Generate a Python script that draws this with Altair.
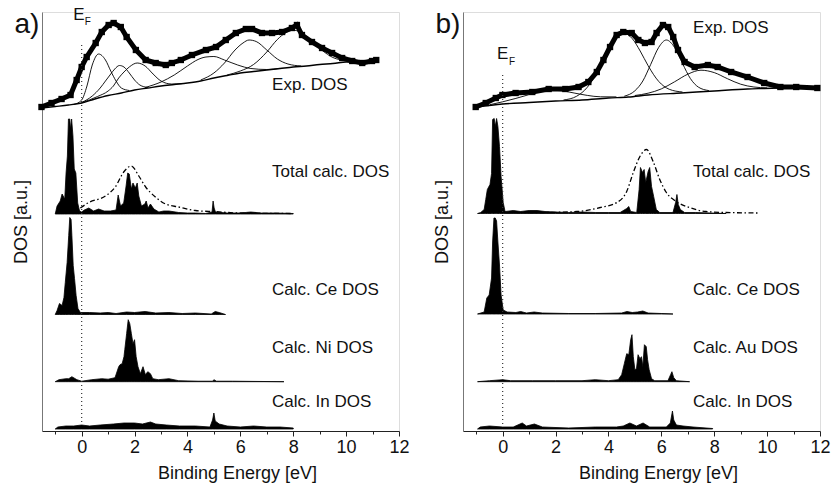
import altair as alt
import pandas as pd

# ---------------- axes ----------------
X_DOMAIN = [-1.5, 12]
Y_DOMAIN = [0, 419]
X_TICKS = list(range(-1, 13))

# ---------------- panel a data (energy eV, intensity a.u.) ----------------
EXP_A = [(-1.52, 324), (-1.14, 328), (-0.76, 332), (-0.42, 336), (-0.19, 351), (0.0, 364),
         (0.19, 374), (0.53, 388), (0.76, 399), (1.02, 406), (1.21, 408), (1.48, 404),
         (1.70, 394), (2.05, 381), (2.42, 371), (2.80, 368), (3.18, 366), (3.41, 368),
         (3.75, 371), (4.17, 376), (4.70, 381), (5.08, 384), (5.45, 391), (5.83, 398),
         (6.21, 402), (6.44, 402), (6.82, 398), (7.20, 398), (7.58, 399), (7.95, 403),
         (8.14, 406), (8.33, 396), (8.71, 389), (9.09, 383), (9.47, 378), (9.85, 373),
         (10.23, 370), (10.61, 368), (10.98, 370), (11.14, 371)]
BG_A = [(-1.52, 323), (-1.0, 324.5), (-0.5, 326), (0.0, 328), (0.5, 332), (1.0, 335.5),
        (1.5, 338), (2.0, 341), (2.5, 343), (3.0, 345), (3.5, 346.5), (4.0, 348), (4.5, 350),
        (5.0, 353), (5.5, 355.5), (6.0, 358), (6.5, 359.5), (7.0, 361), (7.5, 362.5),
        (8.0, 364), (8.5, 365), (9.0, 366.5), (9.5, 367.5), (10.0, 369), (10.5, 369.5),
        (11.1, 370.5)]
FIT_A1 = [(-0.3, 326.5), (0.0, 331), (0.2, 345), (0.4, 366), (0.64, 377), (0.9, 371),
          (1.1, 360), (1.3, 350), (1.5, 343), (1.8, 340.5)]
FIT_A2 = [(0.0, 328.5), (0.4, 335), (0.7, 343), (0.9, 350), (1.1, 357), (1.25, 362),
          (1.43, 365.5), (1.6, 364), (1.8, 358), (2.0, 351), (2.2, 346), (2.5, 343.5)]
FIT_A3 = [(0.0, 328.3), (0.6, 334.5), (1.0, 340), (1.2, 345), (1.4, 353), (1.6, 359),
          (1.8, 364), (2.1, 368), (2.4, 365), (2.7, 357), (3.0, 350), (3.4, 347), (3.8, 347.4)]
FIT_A4 = [(2.4, 343.5), (3.0, 349), (3.5, 356), (4.0, 365), (4.4, 371.5), (4.7, 374),
          (5.0, 374.5), (5.4, 371), (5.9, 366), (6.4, 362.5), (7.0, 361.5), (7.5, 362.6)]
FIT_A5 = [(4.5, 351), (5.0, 358), (5.4, 368), (5.8, 381), (6.1, 388), (6.33, 391),
          (6.6, 389.5), (7.0, 381), (7.4, 372), (7.8, 367), (8.3, 365)]
FIT_A6 = [(5.5, 356), (6.0, 360), (6.5, 366.5), (7.0, 379), (7.4, 391.5), (7.7, 398),
          (7.97, 401), (8.3, 398.5), (8.7, 390), (9.1, 380.5), (9.5, 373.5), (10.0, 370.5),
          (10.5, 369.8)]

TOTAL_A = [(-1.0, 0), (-0.93, 8), (-0.81, 13), (-0.74, 20), (-0.64, 15), (-0.59, 41),
           (-0.54, 58), (-0.50, 95), (-0.45, 95), (-0.42, 85), (-0.38, 95), (-0.33, 78),
           (-0.28, 45), (-0.22, 41), (-0.15, 11), (-0.08, 3), (0.0, 2), (0.1, 4), (0.27, 6),
           (0.45, 3), (0.64, 5), (0.85, 3), (1.09, 3), (1.3, 4), (1.38, 19), (1.47, 8),
           (1.59, 11), (1.68, 28), (1.74, 41), (1.80, 40), (1.88, 25), (1.94, 31), (2.03, 26),
           (2.10, 31), (2.16, 18), (2.26, 8), (2.39, 10), (2.44, 13), (2.51, 6), (2.60, 10),
           (2.73, 5), (2.92, 2), (3.1, 3), (3.30, 3), (3.67, 1.5), (4.0, 1), (4.3, 1),
           (4.68, 0.5), (4.93, 2), (4.97, 13), (5.01, 6), (5.06, 2), (5.5, 1), (6.0, 1),
           (6.39, 2), (6.8, 1), (7.3, 1), (8.0, 0.5)]
ENV_A = [(-0.05, 6), (0.27, 11.5), (0.9, 18), (1.27, 27), (1.59, 42), (1.88, 48), (2.16, 38),
         (2.42, 27), (2.79, 17), (3.17, 10), (3.67, 7), (4.3, 3.5), (5.06, 2.3), (5.95, 1),
         (7.97, 0.5)]
CE_A = [(-1.0, 0), (-0.93, 4), (-0.84, 11), (-0.74, 9), (-0.67, 17), (-0.62, 32), (-0.55, 52),
        (-0.49, 79), (-0.45, 97), (-0.40, 95), (-0.37, 79), (-0.32, 49), (-0.27, 36),
        (-0.21, 19), (-0.14, 6), (-0.05, 2), (0.3, 2), (0.7, 1.5), (1.0, 2), (1.3, 1),
        (1.7, 2.5), (2.0, 2), (2.4, 3), (2.8, 1.5), (3.3, 2), (3.8, 1), (4.3, 1.5), (4.9, 0.5),
        (5.05, 3), (5.2, 2), (5.44, 0)]
NI_A = [(-1.0, 0), (-0.86, 2), (-0.6, 3), (-0.49, 3), (-0.37, 5), (-0.18, 2), (0.0, 0.5),
        (0.38, 2), (0.76, 3), (1.0, 2.5), (1.26, 4), (1.40, 15), (1.45, 17), (1.53, 18),
        (1.6, 25), (1.63, 32), (1.70, 48), (1.76, 62), (1.82, 58), (1.88, 48), (1.94, 38),
        (2.00, 42), (2.06, 25), (2.13, 15), (2.22, 8), (2.32, 15), (2.41, 7), (2.50, 10),
        (2.60, 8), (2.69, 3), (2.9, 2), (3.3, 3), (3.67, 1), (4.4, 0.5), (4.95, 0.5),
        (5.0, 2), (5.1, 0.5), (5.7, 0.5), (7.65, 0)]
IN_A = [(-1.0, 0), (-0.9, 2), (-0.6, 3), (-0.3, 3), (0.0, 4), (0.3, 3), (0.7, 4), (1.2, 5),
        (1.6, 6), (2.0, 6), (2.3, 5), (2.6, 7), (2.8, 5), (3.2, 4), (3.7, 3), (4.3, 3),
        (4.85, 2), (4.95, 9), (5.0, 16), (5.05, 8), (5.2, 5), (5.5, 3), (6.0, 2), (6.5, 3),
        (7.0, 2), (7.5, 2), (8.0, 1)]
OFFSET_A = {"total": 217, "ce": 116.5, "ni": 49.3, "in": 2}
LABELS_A = ["Exp. DOS", "Total calc. DOS", "Calc. Ce DOS", "Calc. Ni DOS", "Calc. In DOS"]

# ---------------- panel b data ----------------
EXP_B = [(-1.02, 324), (-0.64, 328), (-0.26, 333), (-0.01, 336), (0.49, 338), (1.12, 339),
         (1.74, 342), (2.37, 342), (2.87, 344), (3.24, 349), (3.56, 359), (3.81, 371),
         (4.06, 384), (4.31, 396), (4.56, 399), (4.88, 398), (5.13, 391), (5.38, 388),
         (5.63, 389), (5.82, 398), (6.06, 406), (6.26, 404), (6.45, 394), (6.63, 381),
         (6.88, 369), (7.26, 364), (7.76, 366), (8.13, 364), (8.64, 359), (9.26, 354),
         (9.89, 348), (10.5, 344), (11.1, 344), (11.9, 343)]
BG_B = [(-1.02, 324), (0.0, 327), (1.0, 328.5), (2.0, 330), (3.0, 331), (4.0, 333),
        (4.75, 334), (5.5, 336), (6.75, 338), (8.0, 340), (9.26, 342), (9.9, 342.5),
        (10.5, 343)]
FIT_B1 = [(-0.5, 326.2), (0.0, 329.2), (0.5, 332.6), (1.0, 336.4), (1.5, 339.8), (1.8, 340.7),
          (2.2, 340.3), (2.7, 338), (3.2, 335.6), (3.7, 334.2), (4.3, 334.1)]
FIT_B2 = [(2.3, 331), (2.8, 334.8), (3.2, 343.7), (3.6, 360.4), (3.9, 376), (4.2, 390.4),
          (4.56, 398), (4.9, 392.4), (5.2, 380), (5.5, 365.3), (5.9, 349.6), (6.3, 341.7),
          (6.8, 339)]
FIT_B3 = [(4.6, 334.8), (5.0, 340.2), (5.3, 350), (5.6, 366.7), (5.9, 383.6), (6.19, 391),
          (6.5, 383.6), (6.8, 367.5), (7.1, 352.4), (7.4, 343.9), (7.8, 340.4)]
FIT_B4 = [(5.0, 335.5), (5.5, 337.8), (6.0, 342.1), (6.5, 349.2), (7.0, 356.8), (7.5, 360.8),
          (8.0, 358.4), (8.5, 352.3), (9.0, 346.8), (9.5, 344), (10.0, 343.1)]

TOTAL_B = [(-0.95, 0), (-0.83, 1), (-0.70, 4), (-0.64, 14), (-0.58, 24), (-0.48, 29),
           (-0.42, 40), (-0.38, 94), (-0.32, 95), (-0.28, 87), (-0.23, 95), (-0.18, 87),
           (-0.12, 67), (-0.06, 37), (0.02, 11), (0.09, 2), (0.4, 3), (0.68, 2), (1.0, 3),
           (1.3, 3), (1.6, 2), (2.0, 1.5), (2.5, 1), (3.0, 1.5), (3.5, 1), (4.0, 1), (4.44, 1),
           (4.69, 5), (4.77, 7), (4.84, 2), (5.07, 1), (5.16, 24), (5.21, 46), (5.29, 41),
           (5.35, 44), (5.41, 31), (5.50, 42), (5.56, 46), (5.63, 27), (5.71, 17), (5.81, 4),
           (5.94, 1), (6.44, 1), (6.54, 11), (6.59, 19), (6.64, 9), (6.72, 4), (6.88, 1),
           (7.3, 1), (8.45, 0)]
ENV_B = [(0.1, 1), (1.5, 1), (2.81, 2), (3.69, 6), (4.32, 11), (4.69, 22), (4.94, 41),
         (5.19, 57), (5.44, 64), (5.69, 52), (5.94, 34), (6.19, 21), (6.56, 12), (7.06, 6),
         (7.68, 2), (8.45, 1), (9.64, 0.5)]
CE_B = [(-0.95, 0), (-0.70, 2), (-0.60, 16), (-0.51, 19), (-0.42, 36), (-0.38, 72),
        (-0.33, 96), (-0.28, 96), (-0.23, 93), (-0.18, 72), (-0.12, 49), (-0.06, 19),
        (0.02, 4), (0.17, 2), (0.5, 1.5), (0.68, 2.5), (0.9, 1), (1.19, 2), (1.5, 1),
        (2.5, 0.5), (3.5, 0.5), (4.5, 1), (4.7, 2.5), (4.9, 1.5), (5.1, 2), (5.3, 3),
        (5.5, 1), (6.0, 0.5), (6.44, 0)]
AU_B = [(-0.95, 0), (-0.5, 1), (0.0, 2), (0.3, 1), (1.12, 1), (2.0, 1), (3.0, 1), (3.5, 2),
        (4.0, 1), (4.37, 2), (4.5, 7), (4.6, 18), (4.69, 28), (4.77, 27), (4.84, 42),
        (4.89, 47), (4.94, 25), (5.0, 12), (5.06, 13), (5.12, 27), (5.19, 23), (5.25, 25),
        (5.3, 15), (5.36, 37), (5.43, 35), (5.48, 22), (5.54, 12), (5.63, 3), (5.75, 1),
        (6.25, 1), (6.35, 7), (6.4, 10), (6.47, 4), (6.57, 1), (7.07, 0)]
IN_B = [(-0.95, 0), (-0.85, 2), (-0.5, 3), (0.0, 2), (0.4, 2), (0.74, 6), (0.9, 3), (1.2, 5),
        (1.5, 2), (2.5, 1), (3.5, 2), (4.3, 2), (4.56, 3), (4.81, 6), (5.06, 3), (5.31, 6),
        (5.56, 2), (6.19, 2), (6.34, 6), (6.42, 18), (6.47, 9), (6.57, 4), (6.82, 3),
        (7.2, 2), (7.94, 0.5)]
OFFSET_B = {"total": 217.5, "ce": 117, "au": 49.3, "in": 2}
LABELS_B = ["Exp. DOS", "Total calc. DOS", "Calc. Ce DOS", "Calc. Au DOS", "Calc. In DOS"]

# ---------------- annotation placement (data coordinates) ----------------
LABEL_X = 7.2
LABEL_Y_A = [346, 259, 141, 83, 29]
LABEL_Y_B = [403, 259, 141, 83, 29]

FONT = "Liberation Sans"
INK = "#111111"

XAXIS = alt.Axis(
    title="Binding Energy [eV]", values=X_TICKS,
    labelExpr="datum.value % 2 === 0 ? datum.label : ''",
    labelOverlap=False, labelFlush=False, grid=False,
    tickSize={"condition": {"test": "datum.value % 2 === 0", "value": 5}, "value": 3},
    domainColor="#222222", tickColor="#222222", labelColor=INK,
    labelFont=FONT, labelFontSize=18, labelPadding=2,
    titleFont=FONT, titleFontSize=18, titleFontWeight="normal", titleColor=INK,
    titleX=195, titleY=33, titleBaseline="top", titleAlign="center",
)
YAXIS = alt.Axis(
    title="DOS [a.u.]", labels=False, ticks=False, grid=False, domainColor="#777777",
    titleFont=FONT, titleFontSize=18, titleFontWeight="normal", titleColor=INK,
    titlePadding=12,
)


def xenc():
    return alt.X("e:Q", scale=alt.Scale(domain=X_DOMAIN, nice=False, zero=False), axis=XAXIS)


def yenc(field):
    return alt.Y(f"{field}:Q", scale=alt.Scale(domain=Y_DOMAIN, nice=False, zero=False), axis=YAXIS)


def lines_df(named):
    rows = []
    for name, pts in named.items():
        for e, v in pts:
            rows.append({"curve": name, "e": e, "v": v})
    return pd.DataFrame(rows)


def fills_df(named, offsets):
    rows = []
    for name, pts in named.items():
        b = offsets[name]
        for e, h in pts:
            rows.append({"curve": name, "e": e, "v": b + h, "base": b})
    return pd.DataFrame(rows)


def panel(exp, bg, fits, fills, offsets, env, labels, label_y, tag, ef_pos, ef_line):
    exp_df = pd.DataFrame(exp, columns=["e", "v"])
    bg_df = pd.DataFrame(bg, columns=["e", "v"])
    fit_df = lines_df(fits)
    fill_df = fills_df(fills, offsets)
    env_df = pd.DataFrame([(e, offsets["total"] + h) for e, h in env], columns=["e", "v"])
    lab_df = pd.DataFrame({"e": [LABEL_X] * len(labels), "v": label_y, "t": labels})
    ef_df = pd.DataFrame({"e": [0, 0], "v": ef_line})

    areas = alt.Chart(fill_df).mark_area(
        color="black", stroke="black", strokeWidth=0.8
    ).encode(x=xenc(), y=yenc("v"), y2="base:Q", detail="curve:N")
    envl = alt.Chart(env_df).mark_line(
        color="black", strokeWidth=1.3, strokeDash=[5, 2.5, 1.5, 2.5], interpolate="monotone"
    ).encode(x=xenc(), y=yenc("v"))
    fitl = alt.Chart(fit_df).mark_line(
        color="black", strokeWidth=0.9, interpolate="monotone"
    ).encode(x=xenc(), y=yenc("v"), detail="curve:N")
    bgl = alt.Chart(bg_df).mark_line(
        color="black", strokeWidth=1.4, interpolate="monotone"
    ).encode(x=xenc(), y=yenc("v"))
    expl = alt.Chart(exp_df).mark_line(color="black", strokeWidth=5).encode(x=xenc(), y=yenc("v"))
    exps = alt.Chart(exp_df).mark_square(color="black", size=40, opacity=1).encode(
        x=xenc(), y=yenc("v"))
    efl = alt.Chart(ef_df).mark_line(
        color="#333333", strokeWidth=1.2, strokeDash=[1, 3]
    ).encode(x=xenc(), y=yenc("v"))
    texts = alt.Chart(lab_df).mark_text(
        align="left", baseline="middle", font=FONT, fontSize=17, color=INK
    ).encode(x=xenc(), y=yenc("v"), text="t:N")

    tag_df = pd.DataFrame({"e": [tag[1]], "v": [tag[2]], "t": [tag[0]]})
    tagt = alt.Chart(tag_df).mark_text(
        align="right", baseline="middle", font=FONT, fontSize=28, color=INK
    ).encode(x=xenc(), y=yenc("v"), text="t:N")
    e_df = pd.DataFrame({"e": [ef_pos[0]], "v": [ef_pos[1]], "t": ["E"]})
    f_df = pd.DataFrame({"e": [ef_pos[2]], "v": [ef_pos[3]], "t": ["F"]})
    et = alt.Chart(e_df).mark_text(
        align="left", baseline="middle", font=FONT, fontSize=17, color=INK
    ).encode(x=xenc(), y=yenc("v"), text="t:N")
    ft = alt.Chart(f_df).mark_text(
        align="left", baseline="middle", font=FONT, fontSize=10, color=INK
    ).encode(x=xenc(), y=yenc("v"), text="t:N")

    return alt.layer(
        areas, envl, fitl, bgl, expl, exps, efl, texts, tagt, et, ft
    ).properties(width=357, height=419)


pa = panel(EXP_A, BG_A,
           {"f1": FIT_A1, "f2": FIT_A2, "f3": FIT_A3, "f4": FIT_A4, "f5": FIT_A5, "f6": FIT_A6},
           {"total": TOTAL_A, "ce": CE_A, "ni": NI_A, "in": IN_A}, OFFSET_A, ENV_A,
           LABELS_A, LABEL_Y_A, ("a)", -1.6, 406), (-0.32, 416, 0.12, 409), [386, 6])
pb = panel(EXP_B, BG_B,
           {"f1": FIT_B1, "f2": FIT_B2, "f3": FIT_B3, "f4": FIT_B4},
           {"total": TOTAL_B, "ce": CE_B, "au": AU_B, "in": IN_B}, OFFSET_B, ENV_B,
           LABELS_B, LABEL_Y_B, ("b)", -1.6, 406), (-0.21, 377, 0.24, 369), [356, 4])

chart = alt.hconcat(pa, pb, spacing=22).properties(
    padding={"left": 11, "top": 5, "right": 0, "bottom": 0}
).configure_view(stroke="#777777", strokeWidth=1).configure(background="white")

chart.save("out.html", embed_options={"renderer": "svg", "actions": False})
